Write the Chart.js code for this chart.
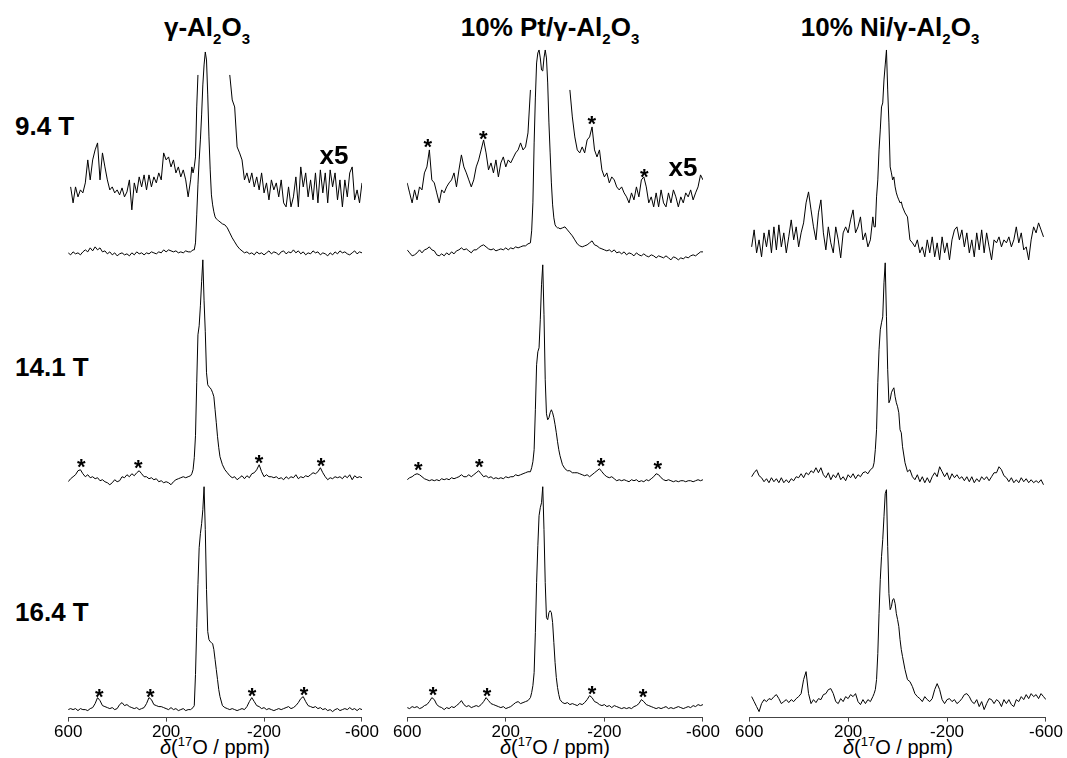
<!DOCTYPE html>
<html><head><meta charset="utf-8">
<script src="https://cdn.jsdelivr.net/npm/chart.js@4.4.1/dist/chart.umd.min.js"></script>
<style>
html,body{margin:0;padding:0;background:#fff;}
body{width:1067px;height:758px;overflow:hidden;position:relative;font-family:"Liberation Sans",Arial,sans-serif;color:#000;}
canvas{position:absolute;}
.title{position:absolute;top:14px;font-weight:bold;font-size:26px;line-height:26px;white-space:nowrap;transform:translateX(-50%);}
.title sub{font-size:15px;line-height:0;vertical-align:-8px;}
.field{position:absolute;left:15px;font-weight:bold;font-size:26px;line-height:26px;white-space:nowrap;}
.xlab{position:absolute;top:737px;font-size:20px;line-height:20px;white-space:nowrap;transform:translateX(-50%);}
.xlab sup{font-size:13px;line-height:0;vertical-align:8px;}
#err{position:absolute;left:400px;top:300px;color:red;font-size:14px;}
</style></head>
<body>
<div class="title" style="left:207px">γ-Al<sub>2</sub>O<sub>3</sub></div>
<div class="title" style="left:550px">10% Pt/γ-Al<sub>2</sub>O<sub>3</sub></div>
<div class="title" style="left:890px">10% Ni/γ-Al<sub>2</sub>O<sub>3</sub></div>
<div class="field" style="top:113px">9.4 T</div>
<div class="field" style="top:354px">14.1 T</div>
<div class="field" style="top:599px">16.4 T</div>
<div class="xlab" style="left:215px"><i>δ</i>(<sup>17</sup>O / ppm)</div>
<div class="xlab" style="left:555px"><i>δ</i>(<sup>17</sup>O / ppm)</div>
<div class="xlab" style="left:898px"><i>δ</i>(<sup>17</sup>O / ppm)</div>
<canvas id="c1"></canvas>
<canvas id="c2"></canvas>
<canvas id="c3"></canvas>
<div id="err"></div>
<script>
const _ = null;
// chemical shift grid (ppm)
const PPM = [
600,590,580,570,560,550,540,530,520,510,
500,490,480,470,460,450,440,430,420,410,
400,390,380,370,360,350,340,330,320,310,
300,290,280,270,260,250,240,230,220,210,
200,190,180,170,160,150,140,130,120,110,
100,95,90,85,80, 75,70,65,60,55, 50,45,40,35,30, 25,20,15,10,5, 0,-5,-10,-15,-20,
-30,-40,-50,-60,-70,-80,-90,-100,-110,-120,
-130,-140,-150,-160,-170,-180,-190,-200,-210,-220,
-230,-240,-250,-260,-270,-280,-290,-300,-310,-320,
-330,-340,-350,-360,-370,-380,-390,-400,-410,-420,
-430,-440,-450,-460,-470,-480,-490,-500,-510,-520,
-530,-540,-550,-560,-570,-580,-590,-600];
const X_TICKS = [600,200,-200,-600];

// gamma-Al2O3 intensities (arb. units)
const AL_94 = [
2,0,3,1,2,0,3,5,3,7,
4,8,5,7,3,4,1,3,0,2,
-1,1,2,0,1,-1,2,0,3,1,
2,0,2,1,3,2,1,3,2,5,
3,5,4,3,4,2,3,2,4,3,
3,4,5,5,12, 40,70,95,115,140, 170,190,203,195,160, 118,85,60,50,43, 38,36,35,34,33,
31,30,27,22,17,13,9,6,4,2,
3,1,2,0,3,1,2,0,2,4,
1,3,2,0,3,4,1,3,2,5,
2,4,1,3,0,2,1,4,2,3,
0,2,1,-1,2,0,3,1,4,2,
3,1,0,2,4,1,3,2];
const AL_94_X5 = [
_,5,-11,5,-5,2,-1,9,32,12,
32,42,49,12,39,25,12,2,5,-1,
2,-3,4,-5,0,12,-18,9,-1,15,
5,17,2,17,5,15,9,19,12,39,
32,35,25,32,19,25,15,22,12,-5,
12,25,19,25,35, 85,117,_,_,_, _,_,_,_,_, _,_,_,_,_, _,_,_,_,_,
_,_,_,117,92,85,45,39,32,12,
19,9,19,5,15,2,19,-1,9,-8,
12,2,9,-5,12,-11,-15,5,-15,-5,
15,-15,25,5,19,-5,12,-8,19,-11,
22,-1,19,-11,22,5,19,-8,12,-15,
12,-5,19,25,-8,2,-11,9];
const AL_141 = [
-4,-1,1,3,7,8,4,1,3,0,
1,-1,0,-3,-2,-4,-5,-7,-5,-2,
-4,-3,1,0,3,1,4,2,5,7,
4,1,1,-1,0,-2,-1,-4,-3,-5,
-4,-5,-7,-4,-2,-1,0,1,0,1,
2,4,8,20,42, 95,143,152,172,196, 218,177,146,105,93, 91,90,88,85,81, 68,55,41,30,21,
13,8,5,2,0,1,-2,0,2,-1,
2,0,4,5,8,13,6,1,3,1,
1,0,1,-1,0,-2,1,-1,1,0,
3,-1,1,0,2,1,3,5,4,6,
10,5,1,-2,0,-1,1,0,1,-1,
2,0,3,-2,2,0,1,0];
const AL_164 = [
0,1,0,1,-1,1,0,0,-1,1,
2,6,12,9,4,3,2,1,2,0,
1,5,7,4,5,3,2,1,2,0,
1,2,6,12,10,5,4,3,3,2,
1,0,2,0,1,-1,0,1,-1,0,
0,1,2,4,35, 82,125,162,176,186, 200,223,180,120,78, 70,68,67,66,60, 50,40,30,20,13,
4,2,1,0,1,0,-1,0,1,0,
3,8,12,8,4,3,1,2,0,1,
0,-1,0,1,0,1,2,3,1,2,
4,7,11,13,8,4,3,2,3,1,
2,0,1,-1,0,-2,0,1,-1,0,
1,0,2,0,1,-1,1,0];

// 10% Pt/gamma-Al2O3
const PT_94 = [
3,0,-3,-2,0,3,0,3,4,6,
3,2,-2,-3,-1,-3,0,-2,1,-1,
2,3,5,3,4,2,0,3,3,5,
7,8,6,4,3,4,2,3,4,3,
5,3,5,4,6,5,6,7,7,9,
10,22,50,110,155, 190,200,203,195,183, 182,195,203,195,170, 130,100,70,48,35, 28,26,25,25,24,
25,26,23,20,17,13,9,7,6,7,
8,10,12,8,7,5,4,3,2,3,
1,3,0,1,-1,1,-2,0,-1,-3,
0,-2,-3,-1,-3,-4,-2,-3,-5,-3,
-4,-5,-3,-5,-7,-4,-5,-7,-5,-6,
-4,-5,-3,-2,-3,-1,1,1];
const PT_94_X5 = [
17,7,-3,10,0,13,10,27,33,50,
20,17,7,-3,10,7,13,17,20,27,
13,30,45,33,27,20,13,20,33,40,
50,60,47,30,37,27,40,23,37,43,
33,40,37,42,47,50,57,50,53,67,
110,_,_,_,_, _,_,_,_,_, _,_,_,_,_, _,_,_,_,_, _,_,_,_,_,
_,_,_,110,83,63,50,47,53,47,
60,63,73,50,43,50,30,23,27,17,
23,20,13,10,13,7,3,-3,7,0,
13,3,20,23,13,-3,3,-7,7,-7,
10,-3,-7,7,-3,10,3,-7,3,-3,
7,3,10,0,7,13,25,20];
const PT_141 = [
0,2,3,5,6,5,3,1,0,-1,
0,-1,0,-1,1,0,1,0,2,1,
2,3,5,3,3,5,3,5,7,9,
6,3,4,2,3,1,2,1,2,1,
3,2,3,3,5,4,5,6,7,8,
8,12,18,30,70, 115,128,132,160,195, 215,165,100,66,60, 62,67,70,67,62, 55,47,38,30,24,
15,11,9,9,7,7,7,6,5,4,
5,3,5,7,9,11,8,5,3,2,
3,1,-1,0,-1,0,-1,-2,0,-1,
0,-2,-1,-2,0,-1,1,3,6,5,
2,0,-1,0,-1,-2,-1,-2,-1,-1,
-2,-1,-1,-2,-1,0,-1,0];
const PT_164 = [
0,-1,1,0,1,-1,0,2,3,6,
10,8,3,1,0,-2,0,-1,1,0,
2,4,7,3,1,2,0,1,2,1,
3,6,10,7,4,3,2,1,0,1,
-1,0,1,3,5,6,4,5,6,7,
10,15,22,35,75, 125,162,192,200,205, 221,178,125,90,88, 95,97,95,85,65, 45,30,20,13,8,
5,4,5,3,4,3,2,4,3,5,
8,12,10,6,5,3,2,3,1,2,
0,2,1,0,-1,0,-1,0,-1,1,
2,4,8,6,3,2,1,0,-1,0,
-1,0,1,-1,0,-1,0,1,0,-1,
0,1,0,2,1,3,2,3];

// 10% Ni/gamma-Al2O3
const NI_94 = [
_,-7,10,-13,0,-17,7,-7,10,-13,
13,-10,15,-7,7,-13,3,20,0,13,
-7,7,17,37,48,30,13,0,27,40,
7,-10,13,-3,-13,13,0,-18,7,13,
7,20,30,7,13,23,0,7,-7,0,
23,13,13,43,60, 90,110,133,137,160, 175,190,150,117,73, 67,60,63,53,47, 43,40,37,38,33,
27,23,0,-3,-7,0,-13,-7,-17,0,
-13,3,-17,-3,-20,3,-13,-3,-20,0,
10,13,0,10,-7,7,-13,0,-17,7,
-10,10,-13,7,-7,-20,0,-3,3,-7,
0,-3,3,-7,0,13,-3,7,-10,-7,
-20,0,13,7,17,10,3,_];
const NI_141 = [
_,3,7,10,4,2,-2,1,-3,2,
-2,1,-3,2,-3,0,-3,1,-1,3,
2,6,2,7,5,9,7,12,7,12,
5,2,7,0,5,2,7,0,3,-1,
5,2,6,1,5,3,7,8,6,10,
12,17,30,50,97, 130,150,157,163,197, 217,163,110,77,80, 87,90,92,83,77, 73,67,50,47,33,
17,8,10,3,0,5,-2,3,-3,2,
-3,3,7,3,13,8,3,7,0,6,
2,5,1,3,-1,3,-2,3,-3,1,
-2,3,0,3,-1,3,7,7,13,10,
4,2,-2,2,-3,0,-3,2,-2,1,
-3,0,-3,-1,-3,0,-5,_];
const NI_164 = [
_,5,0,-5,-10,-2,2,0,3,2,
5,7,3,-2,0,2,-1,2,0,3,
5,8,22,30,8,-2,2,-1,3,2,
7,8,12,13,8,0,-2,3,0,5,
3,7,5,8,0,-3,2,-2,2,0,
5,8,12,22,48, 88,122,145,162,185, 208,212,155,108,92, 95,102,103,98,88, 82,75,62,52,45,
32,22,20,15,8,5,3,0,5,2,
0,3,12,18,12,2,-2,2,3,0,
2,-2,0,3,7,8,5,0,-2,2,
-5,0,-8,-2,3,2,-2,2,0,-5,
2,-2,2,-3,-5,2,0,5,2,7,
3,8,5,7,3,8,5,2];

// spinning sideband markers (ppm) and their heights above each trace
const STAR_AL_141_PPM = [547,314,-180,-433], STAR_AL_141_H = [16,15,20,17];
const STAR_AL_164_PPM = [473,265,-151,-363], STAR_AL_164_H = [18,18,19,20];
const STAR_PT_94_PPM = [516,291,-149,-362],  STAR_PT_94_H = [58,66,81,28];
const STAR_PT_141_PPM = [555,308,-186,-417], STAR_PT_141_H = [15,18,19,16];
const STAR_PT_164_PPM = [495,276,-150,-357], STAR_PT_164_H = [18,17,19,16];

// ---------- layout (pixels) ----------
const AXIS_Y = 718;
const STAR_FONT = 22, X5_FONT = 26;
function stars(ppm, h, base){ return ppm.map((p,i)=>({ppm:p, y:base+h[i], text:'*', size:STAR_FONT, star:true})); }

const COLS = [
  {id:'c1', left:68, right:362,
   traces:[{v:AL_94,off:463},{v:AL_94_X5,off:526},{v:AL_141,off:240},{v:AL_164,off:8}],
   ann:[{ppm:-486,y:526+35,text:'x5',size:X5_FONT}].concat(stars(STAR_AL_141_PPM,STAR_AL_141_H,240), stars(STAR_AL_164_PPM,STAR_AL_164_H,8))},
  {id:'c2', left:407, right:703,
   traces:[{v:PT_94,off:465},{v:PT_94_X5,off:518},{v:PT_141,off:238},{v:PT_164,off:10}],
   ann:[{ppm:-519,y:518+31,text:'x5',size:X5_FONT}].concat(stars(STAR_PT_94_PPM,STAR_PT_94_H,518), stars(STAR_PT_141_PPM,STAR_PT_141_H,238), stars(STAR_PT_164_PPM,STAR_PT_164_H,10))},
  {id:'c3', left:749, right:1046,
   traces:[{v:NI_94,off:478},{v:NI_141,off:238},{v:NI_164,off:16}],
   ann:[]}
];

// length check
const errs=[];
[['AL_94',AL_94],['AL_94_X5',AL_94_X5],['AL_141',AL_141],['AL_164',AL_164],['PT_94',PT_94],['PT_94_X5',PT_94_X5],['PT_141',PT_141],['PT_164',PT_164],['NI_94',NI_94],['NI_141',NI_141],['NI_164',NI_164]].forEach(([n,a])=>{ if(a.length!==PPM.length) errs.push(n+':'+a.length+'/'+PPM.length); });
document.getElementById('err').textContent = errs.join(' ');

const annPlugin = {
  id:'ann',
  afterDatasetsDraw(chart, args, opts){
    const {ctx, scales:{x, y}} = chart;
    ctx.save();
    ctx.fillStyle = '#000';
    ctx.textAlign = 'center';
    (opts.items||[]).forEach(a=>{
      ctx.font = 'bold '+a.size+'px "Liberation Sans", Arial, sans-serif';
      const px = x.getPixelForValue(a.ppm), py = y.getPixelForValue(a.y);
      if (a.star){ ctx.textBaseline='alphabetic'; ctx.fillText(a.text, px, py + 0.57*a.size); }
      else { ctx.textBaseline='middle'; ctx.fillText(a.text, px, py); }
    });
    ctx.restore();
  }
};

function config(col){
  const datasets = col.traces.map(t=>({
    data: PPM.map((p,i)=>({x:p, y: t.v[i]===null ? null : t.off + t.v[i]})),
    borderColor:'#000', borderWidth:1, pointRadius:0, tension:0, fill:false, spanGaps:false
  }));
  return {
    type:'line',
    data:{datasets},
    plugins:[annPlugin],
    options:{
      responsive:false, maintainAspectRatio:false, animation:false, devicePixelRatio:1,
      layout:{padding:0},
      plugins:{legend:{display:false}, tooltip:{enabled:false}, ann:{items:col.ann}},
      scales:{
        x:{type:'linear', reverse:true, min:-600, max:600,
           afterBuildTicks(s){ s.ticks = X_TICKS.map(v=>({value:v})); },
           ticks:{color:'#000', padding:1, maxRotation:0, autoSkip:false,
                  font:{family:'"Liberation Sans", Arial, sans-serif', size:17},
                  callback:(v)=>String(v)},
           grid:{display:true, drawOnChartArea:false, drawTicks:true, tickLength:4, color:'#444', lineWidth:1},
           border:{display:true, color:'#444', width:1}},
        y:{display:false, min:0, max:AXIS_Y}
      }
    }
  };
}

COLS.forEach(col=>{
  const cv = document.getElementById(col.id);
  cv.width = 420; cv.height = 800;
  let chart = new Chart(cv, config(col));
  const ca = chart.chartArea;
  const W = Math.round(420 + (col.right-col.left) - (ca.right-ca.left));
  const H = Math.round(800 + AXIS_Y - (ca.bottom-ca.top));
  chart.destroy();
  cv.width = W; cv.height = H;
  cv.style.width = W+'px'; cv.style.height = H+'px';
  chart = new Chart(cv, config(col));
  const cb = chart.chartArea;
  cv.style.left = (col.left - cb.left)+'px';
  cv.style.top = (0 - cb.top)+'px';
});
</script>
</body></html>
